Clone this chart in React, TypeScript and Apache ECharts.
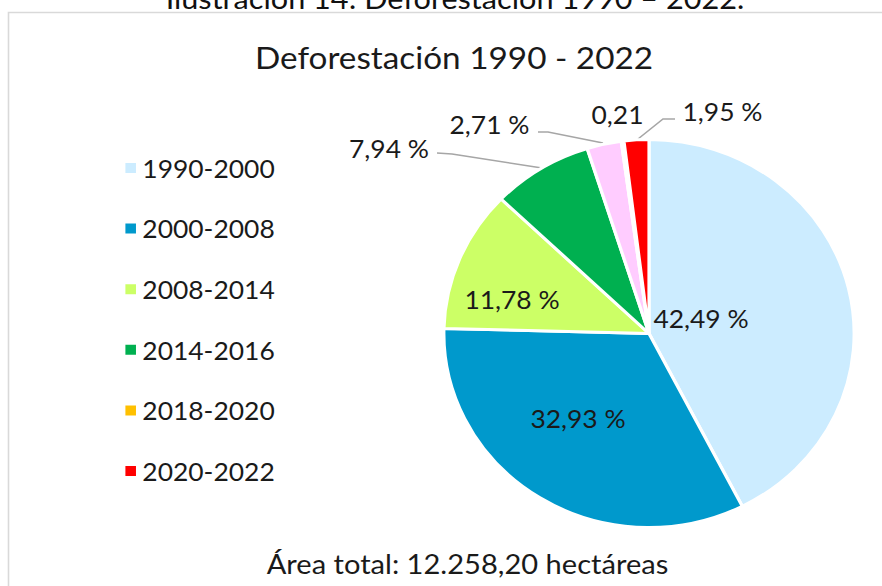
import React, { useEffect, useRef } from "react";
import * as echarts from "echarts";

// ---- data ----
const categories = ["1990-2000", "2000-2008", "2008-2014", "2014-2016", "2016-2018", "2018-2020", "2020-2022"];
const values = [42.49, 32.93, 11.78, 7.94, 2.71, 0.21, 1.95];
const labelTexts = ["42,49 %", "32,93 %", "11,78 %", "7,94 %", "2,71 %", "0,21", "1,95 %"];
const legendNames = ["1990-2000", "2000-2008", "2008-2014", "2014-2016", "2018-2020", "2020-2022"];
const headingText = "Ilustración 14: Deforestación 1990 – 2022.";
const titleText = "Deforestación 1990 - 2022";
const footerText = "Área total: 12.258,20 hectáreas";

// ---- styles / layout ----
const colors = ["#CCECFF", "#0099CC", "#CCFF66", "#00B050", "#FFCCFF", "#FFC000", "#FF0000"];
const SX = 1.0575; // the reference is slightly stretched horizontally
const W = 882 / SX;
const H = 586;
const FONT = "Lato, 'Open Sans', sans-serif";
const TXT = "#1a1a1a";
// label centres (picture px)
const labelPos: number[][] = [[701, 318], [578, 418], [512, 299], [389, 148], [489.5, 124], [617.5, 114], [722.5, 111]];
const leaderLines: (number[][] | null)[] = [
  null, null, null,
  [[542, 168], [452, 154], [437, 153]],
  [[603, 143], [548, 132], [538, 132]],
  null,
  [[638, 139], [663, 119], [675, 119]],
];

export default function App() {
  const ref = useRef<HTMLDivElement>(null);
  useEffect(() => {
    if (!ref.current) return;
    const chart = echarts.init(ref.current, undefined, { renderer: "svg" });
    const data = categories.map((name, i) => ({
      name,
      value: values[i],
      itemStyle: { color: colors[i] },
      label: { formatter: labelTexts[i] },
      labelLine: { show: !!leaderLines[i] },
    }));
    chart.setOption({
      animation: false,
      backgroundColor: "#ffffff",
      legend: {
        orient: "vertical",
        left: 118 / SX,
        top: 148,
        itemWidth: 12,
        itemHeight: 12,
        itemGap: 30.6,
        icon: "rect",
        selectedMode: false,
        data: legendNames,
        textStyle: { fontSize: 25, fontFamily: FONT, color: TXT, lineHeight: 30 },
      },
      graphic: [
        {
          type: "rect",
          shape: { x: 8.5 / SX, y: 12.5, width: 1200, height: 900 },
          style: { fill: "none", stroke: "#D9D9D9", lineWidth: 1.5 },
          silent: true,
        },
        {
          type: "text",
          x: 455 / SX,
          y: -2,
          style: { text: headingText, fontSize: 29, fontFamily: FONT, fill: "#111", textAlign: "center", textVerticalAlign: "middle" },
        },
        {
          type: "text",
          x: 454 / SX,
          y: 57,
          style: { text: titleText, fontSize: 31.5, fontFamily: FONT, fill: TXT, textAlign: "center", textVerticalAlign: "middle" },
        },
        {
          type: "text",
          x: 467.5 / SX,
          y: 563,
          style: { text: footerText, fontSize: 27.5, fontFamily: FONT, fill: TXT, textAlign: "center", textVerticalAlign: "middle" },
        },
      ],
      series: [
        {
          type: "pie",
          center: [649 / SX, 333.5],
          radius: [0, 194],
          startAngle: 90,
          clockwise: true,
          avoidLabelOverlap: false,
          itemStyle: { borderColor: "#ffffff", borderWidth: 3 },
          label: { show: true, position: "outside", fontSize: 25, fontFamily: FONT, color: TXT },
          labelLine: { show: true, lineStyle: { color: "#A6A6A6", width: 1.5 } },
          labelLayout: (params: any) => {
            const i = params.dataIndex;
            const p = labelPos[i];
            const res: any = { x: p[0] / SX, y: p[1], align: "center", verticalAlign: "middle" };
            const l = leaderLines[i];
            if (l) res.labelLinePoints = l.map((q) => [q[0] / SX, q[1]]);
            return res;
          },
          emphasis: { disabled: true },
          data,
        },
      ],
    });
    return () => chart.dispose();
  }, []);
  return (
    <div style={{ position: "fixed", left: 0, top: 0, width: 882, height: H, overflow: "hidden", background: "#fff" }}>
      <div ref={ref} style={{ width: W, height: H, transform: `scaleX(${SX})`, transformOrigin: "0 0" }} />
    </div>
  );
}
